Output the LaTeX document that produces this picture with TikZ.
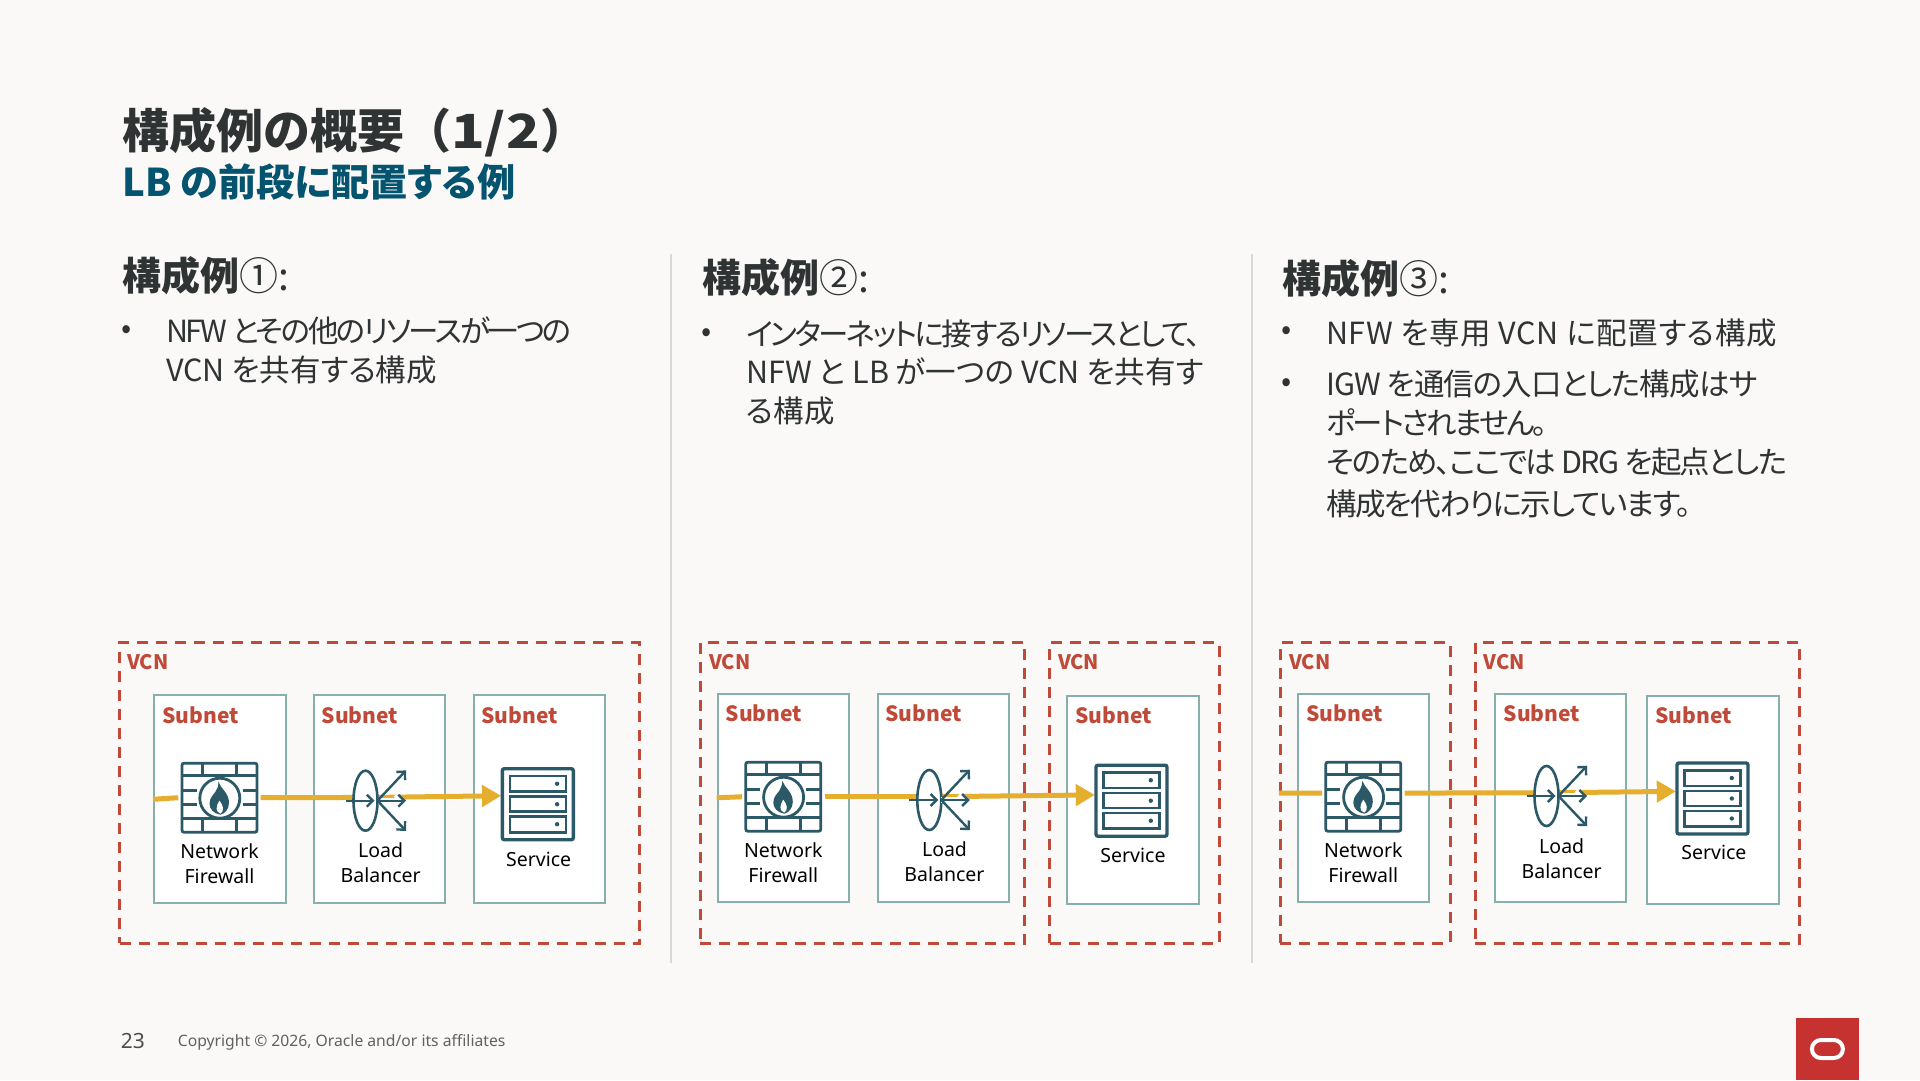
\documentclass[tikz,border=0pt]{standalone}
\usepackage{fontspec}
\setmainfont{Noto Sans CJK JP}[RawFeature=+palt]
\newfontfamily\wideface{Noto Sans CJK JP}
\newfontfamily\labelface{Noto Sans}
\usetikzlibrary{arrows.meta, positioning}
\definecolor{pagebg}{HTML}{FBF9F8}
\definecolor{inkdark}{HTML}{2F3333}
\definecolor{inkblue}{HTML}{04536F}
\definecolor{vcnred}{HTML}{BF4A39}
\definecolor{subnetline}{HTML}{86B0AC}
\definecolor{iconblue}{HTML}{2C5967}
\definecolor{flowyellow}{HTML}{E5AE2E}
\definecolor{logored}{HTML}{C6322F}
\definecolor{ruleline}{HTML}{D9D8D5}
\newcommand{\squeezed}[2]{{\addfontfeature{LetterSpace=#1}#2}}

\begin{document}
\begin{tikzpicture}[
    x=1pt, y=-1pt,
    vcnbox/.style={rectangle, draw=vcnred, line width=3pt, dash pattern=on 11pt off 8pt, inner sep=0pt},
    subnetbox/.style={rectangle, draw=subnetline, line width=2pt, fill=white, inner sep=0pt,
      minimum width=131.5pt, minimum height=208pt},
    iconbox/.style={rectangle, inner sep=0pt},
    vcnlabel/.style={anchor=west, inner sep=0pt, text=vcnred, font=\bfseries\fontsize{20}{22}\selectfont},
    subnetlabel/.style={anchor=west, inner sep=0pt, text=vcnred, font=\bfseries\fontsize{21}{24}\selectfont},
    iconlabel/.style={anchor=center, inner sep=0pt, align=center, text=black,
      font=\labelface\fontsize{19.5}{25}\selectfont},
    heading/.style={anchor=west, inner sep=0pt, text=inkdark, font=\fontsize{39}{44}\selectfont},
    bodytext/.style={anchor=north west, inner sep=0pt, align=left, text=inkdark, font=\fontsize{30.5}{38.5}\selectfont},
    bulletmark/.style={anchor=center, inner sep=0pt, text=inkdark, font=\fontsize{30}{36}\selectfont},
    flow/.style={draw=flowyellow, line width=5pt},
    flowtip/.style={flow, -{Triangle[length=19pt,width=21pt]}},
    firewallicon/.pic={
      \draw[draw=iconblue, line width=2.8pt, rounded corners=2pt] (-37.5,-34.5) rectangle (37.5,34.5);
      \draw[draw=iconblue, line width=2.6pt] (-37.5,-22) -- (37.5,-22) (-37.5,21) -- (37.5,21)
        (-17,-34.5) -- (-17,-22) (17,-34.5) -- (17,-22) (-17,21) -- (-17,34.5) (17,21) -- (17,34.5)
        (-37.5,-7) -- (-23,-7) (-37.5,7) -- (-23,7) (23,-7) -- (37.5,-7) (23,7) -- (37.5,7);
      \draw[draw=iconblue, line width=2.8pt, fill=white] (0.3,0.5) circle (20);
      \fill[iconblue] (-1,-16) .. controls (1,-9) and (9.5,-5) .. (9.5,5)
        .. controls (9.5,12) and (5,16) .. (1,17) .. controls (-6,16) and (-10,11) .. (-10,6)
        .. controls (-10,0) and (-6,-3) .. (-4,-6) .. controls (-2,-9) and (-1,-12) .. (-1,-16);
      \fill[white] (1,16) .. controls (-4,14) and (-4,9) .. (0,3) .. controls (4,8) and (5,13) .. (1,16);
    },
    lbicon/.pic={
      \draw[draw=iconblue, line width=2.6pt, fill=white] (-10,3.3) ellipse (12 and 30);
      \draw[draw=iconblue, line width=2.4pt, -{Straight Barb[length=6pt,width=12pt]}] (-30,3.3) -- (-1,3.3);
      \draw[draw=iconblue, line width=2.4pt, -{Straight Barb[length=6pt,width=12pt]},
        preaction={draw=white, line width=6pt}] (2,3.3) -- (30.5,3.3);
      \draw[draw=iconblue, line width=2.4pt, -{Straight Barb[length=6pt,width=12pt]}] (2,3.3) -- (30.5,-27);
      \draw[draw=iconblue, line width=2.4pt, -{Straight Barb[length=6pt,width=12pt]}] (2,3.3) -- (30.5,33.5);
    },
    serviceicon/.pic={
      \draw[draw=iconblue, line width=3.4pt, rounded corners=2pt, fill=white] (-35.5,-35.5) rectangle (35.5,35.5);
      \draw[draw=iconblue, line width=2.6pt] (-28,-28.3) rectangle (28,-12.7)
        (-28,-7.7) rectangle (28,7.3) (-28,12.3) rectangle (28,28);
      \fill[iconblue] (19.3,-20.5) circle (2.2) (19.3,0) circle (2.2) (19.3,20) circle (2.2);
    },
  ]
  \path[use as bounding box, fill=pagebg] (0,0) rectangle (1920,1080);

  \node[anchor=west, inner sep=0pt, text=inkdark, font=\wideface\bfseries\fontsize{47}{52}\selectfont] (title) at (122,132) {構成例の概要（\scalebox{1.18}[1]{1/2}）};
  \node[anchor=west, inner sep=0pt, text=inkblue, font=\bfseries\fontsize{38.2}{44}\selectfont] (subtitle) at (122,182) {LB の前段に配置する例};

  \draw[draw=ruleline, line width=2pt] (671,253.5) coordinate (ruleAtop) -- (671,962.5) coordinate (ruleAbot);
  \draw[draw=ruleline, line width=2pt] (1251.5,253.5) coordinate (ruleBtop) -- (1251.5,962.5) coordinate (ruleBbot);

  % left column
  \node[heading] (headA) at (122,276) {\textbf{構成例}①:};
  \node[bulletmark] (dotA) at (127,332) {•};
  \node[bodytext] (textA) at (166,316.5) {\squeezed{-7.5}{NFW とその他のリソースが一つの}\\VCN を共有する構成};

  \node[vcnbox, minimum width=519.4pt, minimum height=300.6pt] (vcnA) at (379.3,793) {};
  \node[vcnlabel] (vcnlabelA) at (127,662) {VCN};
  \node[subnetbox] (subNfwA) at (219.8,799.3) {};
  \node[subnetbox] (subLbA) at (379.3,799.3) {};
  \node[subnetbox] (subSvcA) at (539.5,799.3) {};
  \node[subnetlabel] (sublabelNfwA) at (162.3,715.7) {Subnet};
  \node[subnetlabel] (sublabelLbA) at (321.4,715.7) {Subnet};
  \node[subnetlabel] (sublabelSvcA) at (481.2,715.7) {Subnet};
  \node[iconbox, minimum width=82pt, minimum height=70pt] (nfwA) at (219.5,797.7) {};
  \node[iconbox, minimum width=61pt, minimum height=61pt] (lbA) at (375.5,797.4) {};
  \node[iconbox, minimum width=73pt, minimum height=72pt] (svcA) at (537.8,804.2) {};
  \draw[flow] (subNfwA.west) -- (nfwA.west);
  \draw[flow] (nfwA.east) -- (lbA.center);
  \draw[flowtip] (lbA.center) -- (svcA.167);
  \pic at (nfwA) {firewallicon};
  \pic at (lbA) {lbicon};
  \pic at (svcA) {serviceicon};
  \node[iconlabel] (nfwlabelA) at (219.5,863.8) {Network\\Firewall};
  \node[iconlabel] (lblabelA) at (380.7,863) {Load\\Balancer};
  \node[iconlabel] (svclabelA) at (538.7,859) {Service};

  % middle column
  \node[heading] (headB) at (702,277.5) {\textbf{構成例}②:};
  \node[bulletmark] (dotB) at (707,335) {•};
  \node[bodytext] (textB) at (746,319.5) {\squeezed{-8.6}{インターネットに接するリソースとして、}\\NFW と LB が一つの VCN を共有す\\る構成};

  \node[vcnbox, minimum width=324.7pt, minimum height=300.6pt] (vcnBa) at (862.6,793) {};
  \node[vcnbox, minimum width=169.4pt, minimum height=300.6pt] (vcnBb) at (1134.6,793) {};
  \node[vcnlabel] (vcnlabelBa) at (709,662) {VCN};
  \node[vcnlabel] (vcnlabelBb) at (1057.8,662) {VCN};
  \node[subnetbox] (subNfwB) at (783.4,797.8) {};
  \node[subnetbox] (subLbB) at (943.3,797.8) {};
  \node[subnetbox] (subSvcB) at (1132.8,799.7) {};
  \node[subnetlabel] (sublabelNfwB) at (725.5,713.3) {Subnet};
  \node[subnetlabel] (sublabelLbB) at (885.3,713.3) {Subnet};
  \node[subnetlabel] (sublabelSvcB) at (1075.3,715.7) {Subnet};
  \node[iconbox, minimum width=82pt, minimum height=70pt] (nfwB) at (783.3,796.7) {};
  \node[iconbox, minimum width=61pt, minimum height=61pt] (lbB) at (939.3,796.7) {};
  \node[iconbox, minimum width=73pt, minimum height=72pt] (svcB) at (1131.5,800.7) {};
  \draw[flow] (subNfwB.west) -- (nfwB.west);
  \draw[flow] (nfwB.east) -- (lbB.center);
  \draw[flowtip] (lbB.center) -- (svcB.171);
  \pic at (nfwB) {firewallicon};
  \pic at (lbB) {lbicon};
  \pic at (svcB) {serviceicon};
  \node[iconlabel] (nfwlabelB) at (783.3,862.8) {Network\\Firewall};
  \node[iconlabel] (lblabelB) at (944.5,862) {Load\\Balancer};
  \node[iconlabel] (svclabelB) at (1133,855) {Service};

  % right column
  \node[heading] (headC) at (1282,278.5) {\textbf{構成例}③:};
  \node[bulletmark] (dotCa) at (1287,333) {•};
  \node[bodytext] (textCa) at (1326,318.5) {\squeezed{2.2}{NFW を専用 VCN に配置する構成}};
  \node[bulletmark] (dotCb) at (1287,385) {•};
  \node[bodytext] (textCb) at (1326,370) {\squeezed{-3}{IGW を通信の入口とした構成はサ}\\\squeezed{-8}{ポートされません。}\\[1pt]\squeezed{-5.4}{そのため、ここでは DRG を起点とした}\\[3.5pt]\squeezed{-5}{構成を代わりに示しています。}};

  \node[vcnbox, minimum width=169.7pt, minimum height=300.6pt] (vcnCa) at (1365.2,793) {};
  \node[vcnbox, minimum width=324.4pt, minimum height=300.6pt] (vcnCb) at (1637.6,793) {};
  \node[vcnlabel] (vcnlabelCa) at (1289,662) {VCN};
  \node[vcnlabel] (vcnlabelCb) at (1483.5,662) {VCN};
  \node[subnetbox] (subNfwC) at (1363.4,797.8) {};
  \node[subnetbox] (subLbC) at (1560.6,797.8) {};
  \node[subnetbox] (subSvcC) at (1712.8,799.7) {};
  \node[subnetlabel] (sublabelNfwC) at (1306,713.3) {Subnet};
  \node[subnetlabel] (sublabelLbC) at (1503.5,713.3) {Subnet};
  \node[subnetlabel] (sublabelSvcC) at (1655.3,715.7) {Subnet};
  \node[iconbox, minimum width=82pt, minimum height=70pt] (nfwC) at (1363.3,796.7) {};
  \node[iconbox, minimum width=61pt, minimum height=61pt] (lbC) at (1556.5,792.7) {};
  \node[iconbox, minimum width=73pt, minimum height=72pt] (svcC) at (1712.5,798.5) {};
  \draw[flow] (vcnCa.west) -- (nfwC.175);
  \draw[flow] (nfwC.5) -- (lbC.center);
  \draw[flowtip] (lbC.center) -- (svcC.169.5);
  \pic at (nfwC) {firewallicon};
  \pic at (lbC) {lbicon};
  \pic at (svcC) {serviceicon};
  \node[iconlabel] (nfwlabelC) at (1363.3,862.8) {Network\\Firewall};
  \node[iconlabel] (lblabelC) at (1561.7,858.4) {Load\\Balancer};
  \node[iconlabel] (svclabelC) at (1713.9,852.7) {Service};

  \node[anchor=west, inner sep=0pt, text=black!70, font=\labelface\fontsize{21}{24}\selectfont] (pagenum) at (120.7,1040.7) {23};
  \node[anchor=west, inner sep=0pt, text=black!62, font=\labelface\fontsize{15.7}{20}\selectfont] (copyright) at (177.7,1042.5) {Copyright © 2026, Oracle and/or its affiliates};

  \node[rectangle, fill=logored, inner sep=0pt, minimum width=62.7pt, minimum height=62pt] (logo) at (1827.4,1049) {};
  \node[rectangle, rounded corners=9pt, draw=white, line width=4pt, inner sep=0pt, minimum width=31pt, minimum height=18pt] (logoring) at (logo) {};
\end{tikzpicture}
\end{document}
